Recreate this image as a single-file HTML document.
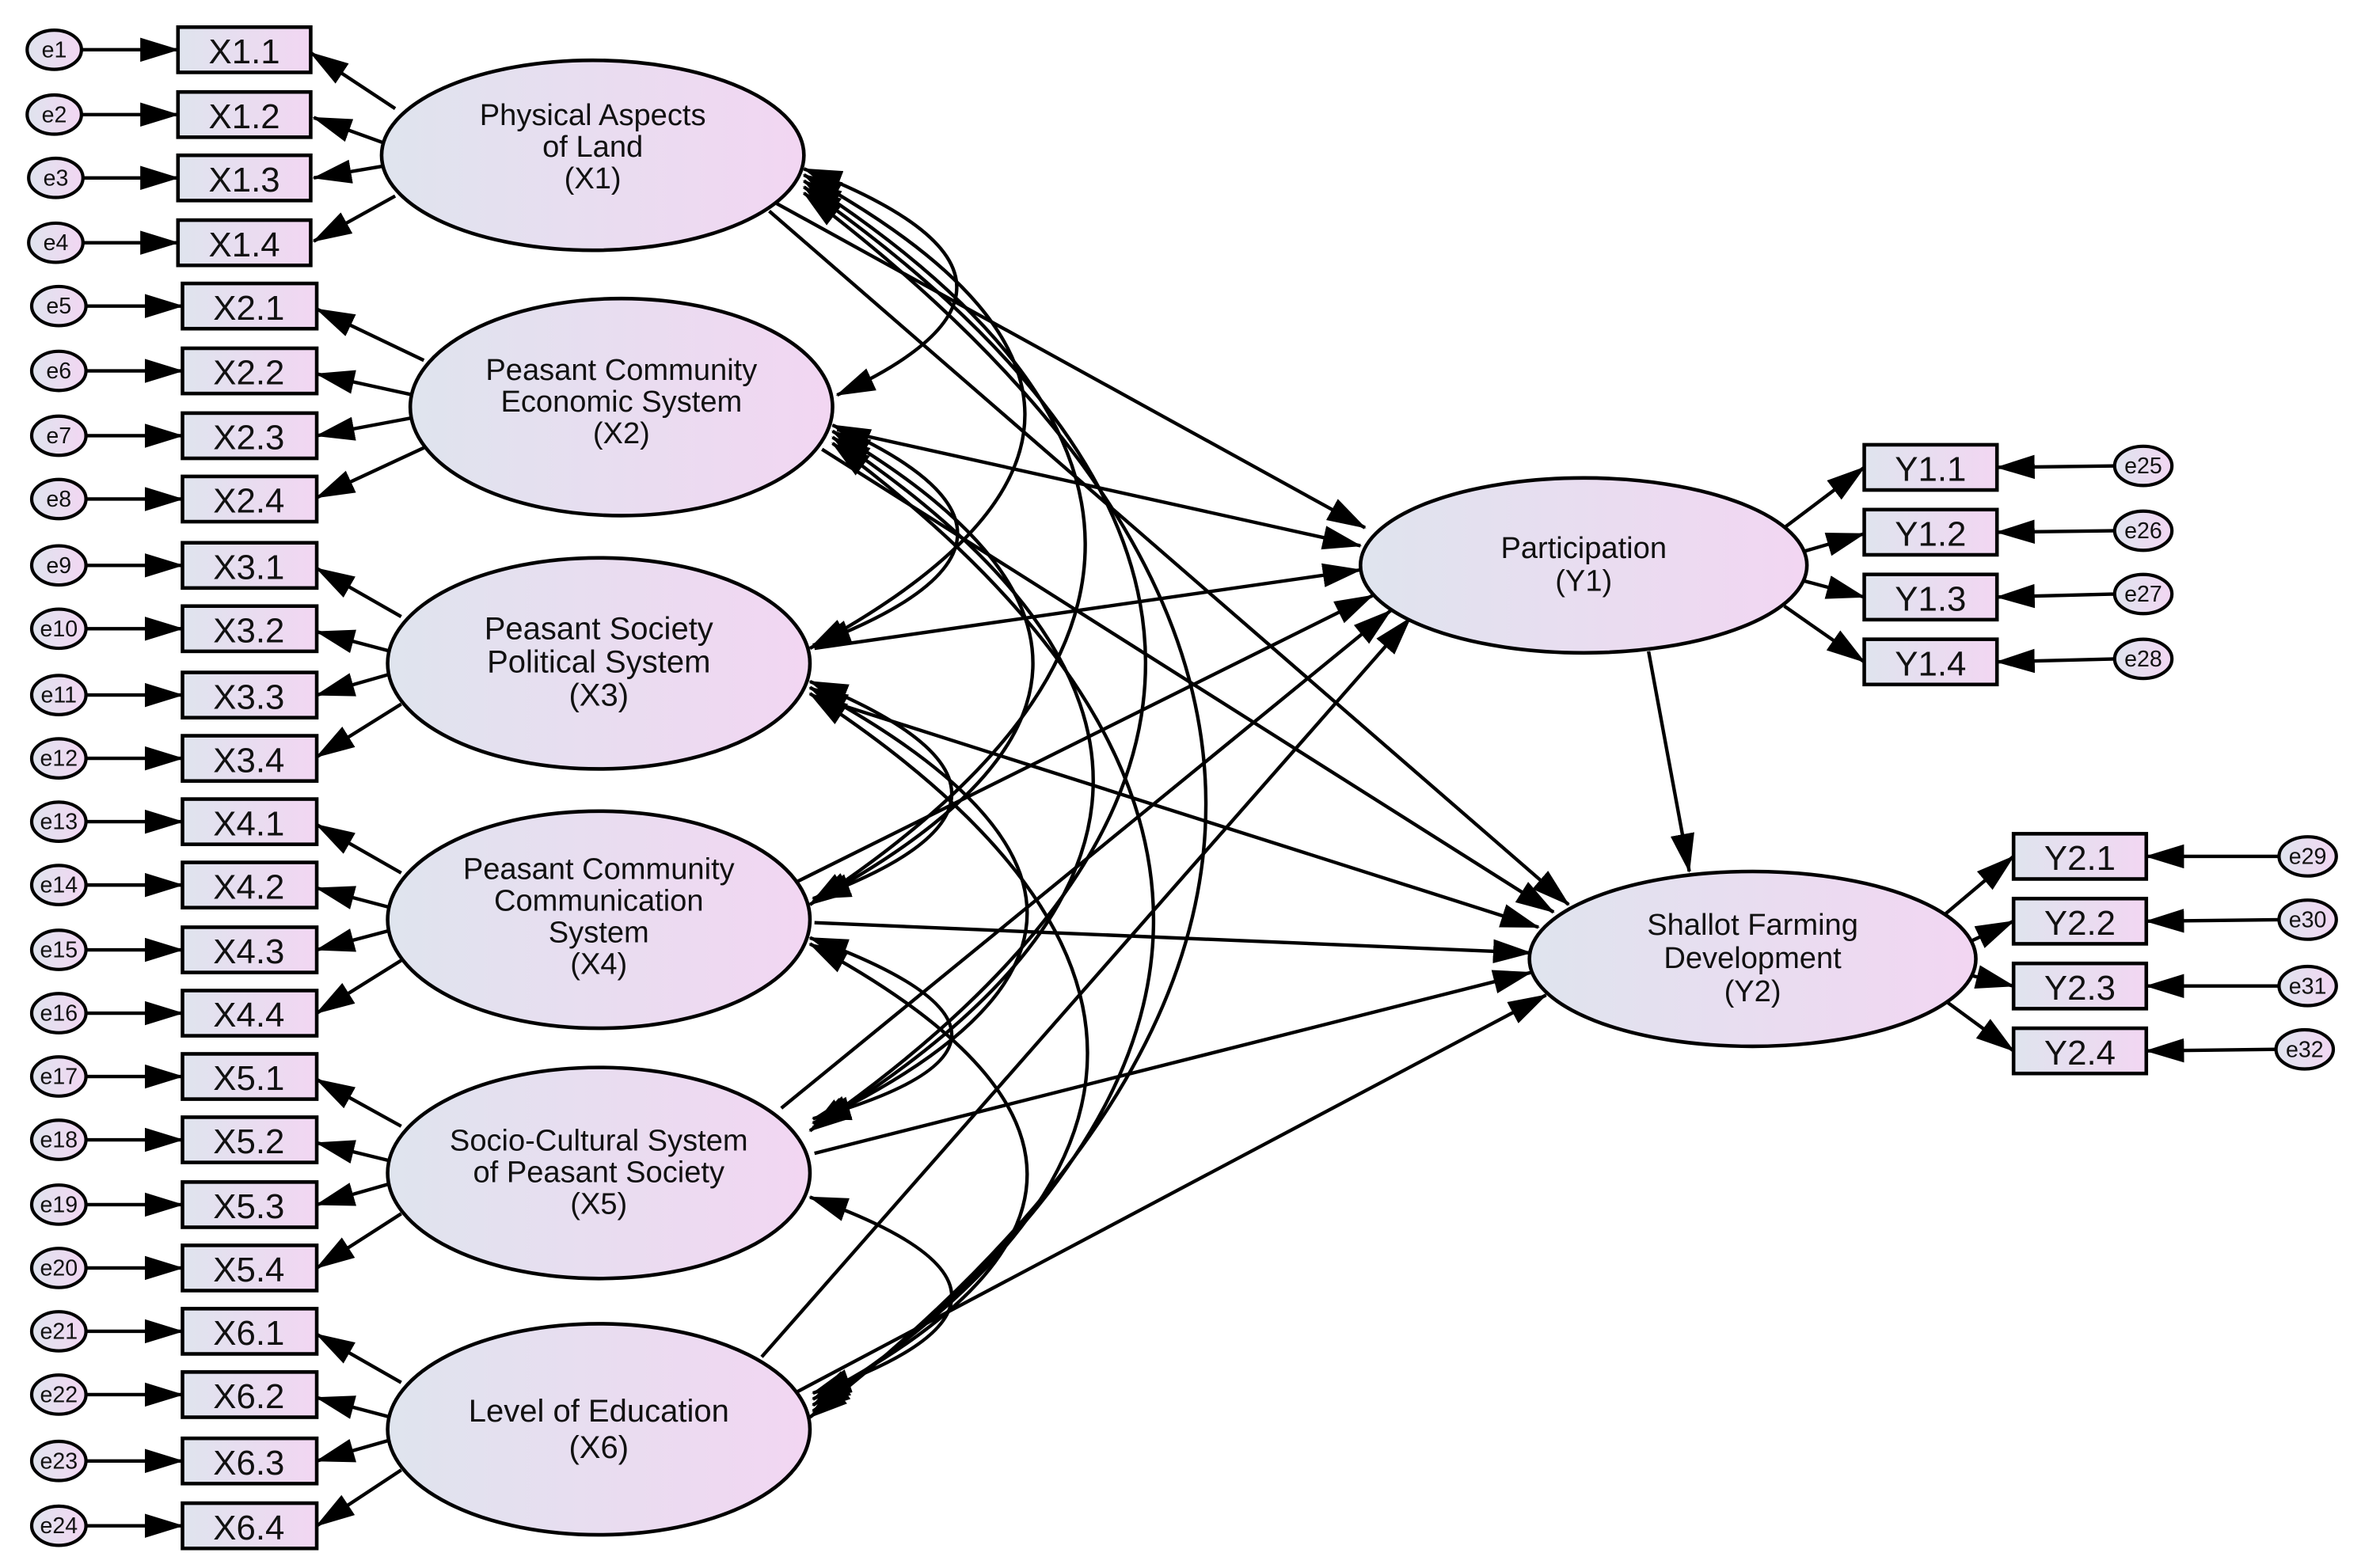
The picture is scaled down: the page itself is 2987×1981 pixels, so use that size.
<!DOCTYPE html>
<html><head><meta charset="utf-8"><style>
html,body{margin:0;padding:0;background:#fff}
svg{display:block}
text{font-family:"Liberation Sans",sans-serif;fill:#111}
</style></head><body>
<svg width="2987" height="1981" viewBox="0 0 1568 1040" preserveAspectRatio="none" xmlns="http://www.w3.org/2000/svg">
<defs>
<linearGradient id="g" x1="0" x2="1" y1="0" y2="0"><stop offset="0" stop-color="#dfe4ee"/><stop offset="1" stop-color="#f2d6f2"/></linearGradient>
<marker id="a" markerUnits="userSpaceOnUse" markerWidth="26" markerHeight="18" refX="25" refY="8" orient="auto-start-reverse"><path d="M0,0 L26,8 L0,16 z" fill="#000"/></marker>
</defs>
<g stroke="#000" stroke-width="2.3" fill="none">
<path d="M533,112 Q724,185 555,262" marker-start="url(#a)" marker-end="url(#a)"/>
<path d="M533,116 Q824,275 537,430" marker-start="url(#a)" marker-end="url(#a)"/>
<path d="M533,120 Q904,360 537,600" marker-start="url(#a)" marker-end="url(#a)"/>
<path d="M533,124 Q984,440 537,750" marker-start="url(#a)" marker-end="url(#a)"/>
<path d="M533,128 Q1064,530 537,940" marker-start="url(#a)" marker-end="url(#a)"/>
<path d="M552,282 Q724,358 539,428" marker-start="url(#a)" marker-end="url(#a)"/>
<path d="M552,286 Q824,445 539,598" marker-start="url(#a)" marker-end="url(#a)"/>
<path d="M552,290 Q904,525 539,748" marker-start="url(#a)" marker-end="url(#a)"/>
<path d="M552,294 Q984,615 539,936" marker-start="url(#a)" marker-end="url(#a)"/>
<path d="M537,452 Q724,528 539,596" marker-start="url(#a)" marker-end="url(#a)"/>
<path d="M537,456 Q824,610 539,745" marker-start="url(#a)" marker-end="url(#a)"/>
<path d="M537,460 Q904,700 539,932" marker-start="url(#a)" marker-end="url(#a)"/>
<path d="M537,622 Q724,690 539,742" marker-start="url(#a)" marker-end="url(#a)"/>
<path d="M537,626 Q824,780 539,928" marker-start="url(#a)" marker-end="url(#a)"/>
<path d="M537,794 Q724,860 539,924" marker-start="url(#a)" marker-end="url(#a)"/>
<path d="M515,135 L905,350" marker-end="url(#a)"/>
<path d="M510,140 L1040,600" marker-end="url(#a)"/>
<path d="M555,285 L902,362" marker-end="url(#a)"/>
<path d="M545,298 L1030,605" marker-end="url(#a)"/>
<path d="M540,430 L902,378" marker-end="url(#a)"/>
<path d="M540,462 L1020,615" marker-end="url(#a)"/>
<path d="M528,585 L910,395" marker-end="url(#a)"/>
<path d="M540,612 L1015,632" marker-end="url(#a)"/>
<path d="M518,735 L922,405" marker-end="url(#a)"/>
<path d="M540,765 L1015,645" marker-end="url(#a)"/>
<path d="M505,900 L935,410" marker-end="url(#a)"/>
<path d="M525,925 L1025,660" marker-end="url(#a)"/>
<path d="M1093,432 L1120,578" marker-end="url(#a)"/>
<path d="M1183,350 L1236,310" marker-end="url(#a)"/>
<path d="M1195,366 L1236,354" marker-end="url(#a)"/>
<path d="M1195,385 L1236,396" marker-end="url(#a)"/>
<path d="M1183,402 L1236,439" marker-end="url(#a)"/>
<path d="M1290,606 L1335,568" marker-end="url(#a)"/>
<path d="M1303,626 L1335,611" marker-end="url(#a)"/>
<path d="M1303,646 L1335,654" marker-end="url(#a)"/>
<path d="M1290,664 L1335,697" marker-end="url(#a)"/>
<path d="M1403,309 L1324,310" marker-end="url(#a)"/>
<path d="M1403,352 L1324,353" marker-end="url(#a)"/>
<path d="M1403,394 L1324,396" marker-end="url(#a)"/>
<path d="M1403,437 L1324,439" marker-end="url(#a)"/>
<path d="M1512,568 L1423,568" marker-end="url(#a)"/>
<path d="M1512,610 L1423,611" marker-end="url(#a)"/>
<path d="M1512,654 L1423,654" marker-end="url(#a)"/>
<path d="M1510,696 L1423,697" marker-end="url(#a)"/>
<path d="M262,72 L206,35" marker-end="url(#a)"/><path d="M255,95 L208,78" marker-end="url(#a)"/><path d="M255,110 L208,118" marker-end="url(#a)"/><path d="M262,130 L208,160" marker-end="url(#a)"/>
<path d="M281,239 L210,205" marker-end="url(#a)"/><path d="M274,262 L210,248" marker-end="url(#a)"/><path d="M274,277 L210,289" marker-end="url(#a)"/><path d="M281,297 L210,330" marker-end="url(#a)"/>
<path d="M266,409 L210,377" marker-end="url(#a)"/><path d="M259,432 L210,419" marker-end="url(#a)"/><path d="M259,447 L210,461" marker-end="url(#a)"/><path d="M266,467 L210,502" marker-end="url(#a)"/>
<path d="M266,579 L210,547" marker-end="url(#a)"/><path d="M259,602 L210,589" marker-end="url(#a)"/><path d="M259,617 L210,630" marker-end="url(#a)"/><path d="M266,637 L210,672" marker-end="url(#a)"/>
<path d="M266,747 L210,716" marker-end="url(#a)"/><path d="M259,770 L210,758" marker-end="url(#a)"/><path d="M259,785 L210,799" marker-end="url(#a)"/><path d="M266,805 L210,841" marker-end="url(#a)"/>
<path d="M266,917 L210,885" marker-end="url(#a)"/><path d="M259,940 L210,927" marker-end="url(#a)"/><path d="M259,955 L210,969" marker-end="url(#a)"/><path d="M266,975 L210,1012" marker-end="url(#a)"/>
<path d="M54,33 L118,33" marker-end="url(#a)"/><path d="M54,76 L118,76" marker-end="url(#a)"/><path d="M55,118 L118,118" marker-end="url(#a)"/><path d="M55,161 L118,161" marker-end="url(#a)"/>
<path d="M57,203 L121,203" marker-end="url(#a)"/><path d="M57,246 L121,246" marker-end="url(#a)"/><path d="M57,289 L121,289" marker-end="url(#a)"/><path d="M57,331 L121,331" marker-end="url(#a)"/>
<path d="M57,375 L121,375" marker-end="url(#a)"/><path d="M57,417 L121,417" marker-end="url(#a)"/><path d="M57,461 L121,461" marker-end="url(#a)"/><path d="M57,503 L121,503" marker-end="url(#a)"/>
<path d="M57,545 L121,545" marker-end="url(#a)"/><path d="M57,587 L121,587" marker-end="url(#a)"/><path d="M57,630 L121,630" marker-end="url(#a)"/><path d="M57,672 L121,672" marker-end="url(#a)"/>
<path d="M57,714 L121,714" marker-end="url(#a)"/><path d="M57,756 L121,756" marker-end="url(#a)"/><path d="M57,799 L121,799" marker-end="url(#a)"/><path d="M57,841 L121,841" marker-end="url(#a)"/>
<path d="M57,883 L121,883" marker-end="url(#a)"/><path d="M57,925 L121,925" marker-end="url(#a)"/><path d="M57,969 L121,969" marker-end="url(#a)"/><path d="M57,1012 L121,1012" marker-end="url(#a)"/>
</g>
<g stroke="#000" stroke-width="2.4" fill="url(#g)">
<ellipse cx="393" cy="103" rx="140" ry="63"/>
<ellipse cx="412" cy="270" rx="140" ry="72"/>
<ellipse cx="397" cy="440" rx="140" ry="70"/>
<ellipse cx="397" cy="610" rx="140" ry="72"/>
<ellipse cx="397" cy="778" rx="140" ry="70"/>
<ellipse cx="397" cy="948" rx="140" ry="70"/>
<ellipse cx="1050" cy="375" rx="148" ry="58"/>
<ellipse cx="1162" cy="636" rx="148" ry="58"/>
</g>
<g font-size="20" text-anchor="middle">
<text x="393" y="83">Physical Aspects</text><text x="393" y="104">of Land</text><text x="393" y="125">(X1)</text>
<text x="412" y="252">Peasant Community</text><text x="412" y="273">Economic System</text><text x="412" y="294">(X2)</text>
<text x="397" y="424" font-size="21">Peasant Society</text><text x="397" y="446" font-size="21">Political System</text><text x="397" y="468" font-size="21">(X3)</text>
<text x="397" y="583">Peasant Community</text><text x="397" y="604">Communication</text><text x="397" y="625">System</text><text x="397" y="646">(X4)</text>
<text x="397" y="763">Socio-Cultural System</text><text x="397" y="784">of Peasant Society</text><text x="397" y="805">(X5)</text>
<text x="397" y="943" font-size="21">Level of Education</text><text x="397" y="967" font-size="21">(X6)</text>
<text x="1050" y="370">Participation</text><text x="1050" y="392">(Y1)</text>
<text x="1162" y="620">Shallot Farming</text><text x="1162" y="642">Development</text><text x="1162" y="664">(Y2)</text>
</g>
<g stroke="#000" stroke-width="2.4" fill="url(#g)">
<rect x="118" y="18" width="88" height="30"/><rect x="118" y="61" width="88" height="30"/><rect x="118" y="103" width="88" height="30"/><rect x="118" y="146" width="88" height="30"/>
<rect x="121" y="188" width="89" height="30"/><rect x="121" y="231" width="89" height="30"/><rect x="121" y="274" width="89" height="30"/><rect x="121" y="316" width="89" height="30"/>
<rect x="121" y="360" width="89" height="30"/><rect x="121" y="402" width="89" height="30"/><rect x="121" y="446" width="89" height="30"/><rect x="121" y="488" width="89" height="30"/>
<rect x="121" y="530" width="89" height="30"/><rect x="121" y="572" width="89" height="30"/><rect x="121" y="615" width="89" height="30"/><rect x="121" y="657" width="89" height="30"/>
<rect x="121" y="699" width="89" height="30"/><rect x="121" y="741" width="89" height="30"/><rect x="121" y="784" width="89" height="30"/><rect x="121" y="826" width="89" height="30"/>
<rect x="121" y="868" width="89" height="30"/><rect x="121" y="910" width="89" height="30"/><rect x="121" y="954" width="89" height="30"/><rect x="121" y="997" width="89" height="30"/>
<rect x="1236" y="295" width="88" height="30"/><rect x="1236" y="338" width="88" height="30"/><rect x="1236" y="381" width="88" height="30"/><rect x="1236" y="424" width="88" height="30"/>
<rect x="1335" y="553" width="88" height="30"/><rect x="1335" y="596" width="88" height="30"/><rect x="1335" y="639" width="88" height="30"/><rect x="1335" y="682" width="88" height="30"/>
</g>
<g font-size="23" text-anchor="middle">
<text x="162" y="42">X1.1</text><text x="162" y="85">X1.2</text><text x="162" y="127">X1.3</text><text x="162" y="170">X1.4</text>
<text x="165" y="212">X2.1</text><text x="165" y="255">X2.2</text><text x="165" y="298">X2.3</text><text x="165" y="340">X2.4</text>
<text x="165" y="384">X3.1</text><text x="165" y="426">X3.2</text><text x="165" y="470">X3.3</text><text x="165" y="512">X3.4</text>
<text x="165" y="554">X4.1</text><text x="165" y="596">X4.2</text><text x="165" y="639">X4.3</text><text x="165" y="681">X4.4</text>
<text x="165" y="723">X5.1</text><text x="165" y="765">X5.2</text><text x="165" y="808">X5.3</text><text x="165" y="850">X5.4</text>
<text x="165" y="892">X6.1</text><text x="165" y="934">X6.2</text><text x="165" y="978">X6.3</text><text x="165" y="1021">X6.4</text>
<text x="1280" y="319">Y1.1</text><text x="1280" y="362">Y1.2</text><text x="1280" y="405">Y1.3</text><text x="1280" y="448">Y1.4</text>
<text x="1379" y="577">Y2.1</text><text x="1379" y="620">Y2.2</text><text x="1379" y="663">Y2.3</text><text x="1379" y="706">Y2.4</text>
</g>
<g stroke="#000" stroke-width="2.2" fill="url(#g)">
<ellipse cx="36" cy="33" rx="18" ry="13"/><ellipse cx="36" cy="76" rx="18" ry="13"/><ellipse cx="37" cy="118" rx="18" ry="13"/><ellipse cx="37" cy="161" rx="18" ry="13"/>
<ellipse cx="39" cy="203" rx="18" ry="13"/><ellipse cx="39" cy="246" rx="18" ry="13"/><ellipse cx="39" cy="289" rx="18" ry="13"/><ellipse cx="39" cy="331" rx="18" ry="13"/>
<ellipse cx="39" cy="375" rx="18" ry="13"/><ellipse cx="39" cy="417" rx="18" ry="13"/><ellipse cx="39" cy="461" rx="18" ry="13"/><ellipse cx="39" cy="503" rx="18" ry="13"/>
<ellipse cx="39" cy="545" rx="18" ry="13"/><ellipse cx="39" cy="587" rx="18" ry="13"/><ellipse cx="39" cy="630" rx="18" ry="13"/><ellipse cx="39" cy="672" rx="18" ry="13"/>
<ellipse cx="39" cy="714" rx="18" ry="13"/><ellipse cx="39" cy="756" rx="18" ry="13"/><ellipse cx="39" cy="799" rx="18" ry="13"/><ellipse cx="39" cy="841" rx="18" ry="13"/>
<ellipse cx="39" cy="883" rx="18" ry="13"/><ellipse cx="39" cy="925" rx="18" ry="13"/><ellipse cx="39" cy="969" rx="18" ry="13"/><ellipse cx="39" cy="1012" rx="18" ry="13"/>
<ellipse cx="1421" cy="309" rx="19" ry="13"/><ellipse cx="1421" cy="352" rx="19" ry="13"/><ellipse cx="1421" cy="394" rx="19" ry="13"/><ellipse cx="1421" cy="437" rx="19" ry="13"/>
<ellipse cx="1530" cy="568" rx="19" ry="13"/><ellipse cx="1530" cy="610" rx="19" ry="13"/><ellipse cx="1530" cy="654" rx="19" ry="13"/><ellipse cx="1528" cy="696" rx="19" ry="13"/>
</g>
<g font-size="15" text-anchor="middle">
<text x="36" y="38">e1</text><text x="36" y="81">e2</text><text x="37" y="123">e3</text><text x="37" y="166">e4</text>
<text x="39" y="208">e5</text><text x="39" y="251">e6</text><text x="39" y="294">e7</text><text x="39" y="336">e8</text>
<text x="39" y="380">e9</text><text x="39" y="422">e10</text><text x="39" y="466">e11</text><text x="39" y="508">e12</text>
<text x="39" y="550">e13</text><text x="39" y="592">e14</text><text x="39" y="635">e15</text><text x="39" y="677">e16</text>
<text x="39" y="719">e17</text><text x="39" y="761">e18</text><text x="39" y="804">e19</text><text x="39" y="846">e20</text>
<text x="39" y="888">e21</text><text x="39" y="930">e22</text><text x="39" y="974">e23</text><text x="39" y="1017">e24</text>
<text x="1421" y="314">e25</text><text x="1421" y="357">e26</text><text x="1421" y="399">e27</text><text x="1421" y="442">e28</text>
<text x="1530" y="573">e29</text><text x="1530" y="615">e30</text><text x="1530" y="659">e31</text><text x="1528" y="701">e32</text>
</g>
</svg>
</body></html>
